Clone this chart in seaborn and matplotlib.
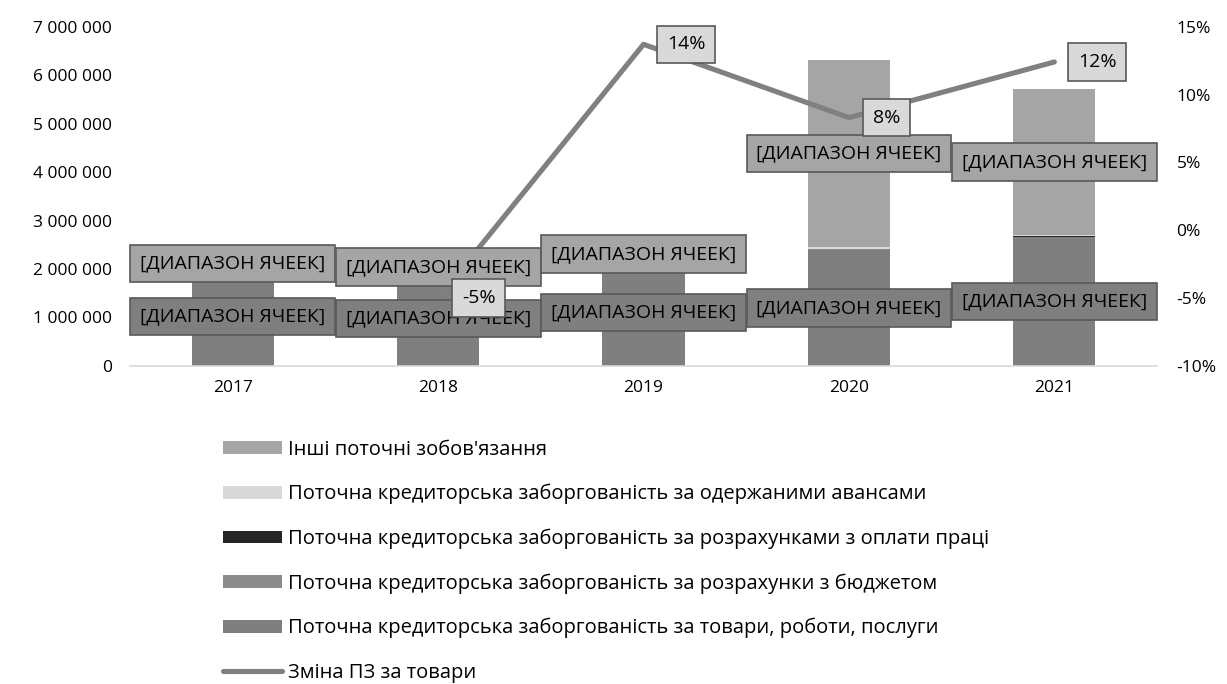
import numpy as np
import matplotlib
matplotlib.use("Agg")
import matplotlib.pyplot as plt
from matplotlib.patches import Patch
from matplotlib.lines import Line2D
from matplotlib.ticker import FuncFormatter
import seaborn as sns

years = ["2017", "2018", "2019", "2020", "2021"]
goods = [2050000, 1950000, 2200000, 2400000, 2660000]
budget = [10000, 10000, 10000, 10000, 10000]
wages = [5000, 5000, 5000, 5000, 5000]
advances = [5000, 5000, 5000, 30000, 30000]
other = [80000, 140000, 180000, 3870000, 3000000]
change_years = ["2018", "2019", "2020", "2021"]
change_pct = [-5.0, 13.7, 8.3, 12.4]

names = [
    "Поточна кредиторська заборгованість за товари, роботи, послуги",
    "Поточна кредиторська заборгованість за розрахунки з бюджетом",
    "Поточна кредиторська заборгованість за розрахунками з оплати праці",
    "Поточна кредиторська заборгованість за одержаними авансами",
    "Інші поточні зобов'язання",
]
line_name = "Зміна ПЗ за товари"
cell_label = "[ДИАПАЗОН ЯЧЕЕК]"

sns.set_theme(style="white")
plt.rcParams["font.family"] = ["Open Sans", "DejaVu Sans"]
plt.rcParams["text.color"] = "#000000"

colors = ["#7f7f7f", "#8c8c8c", "#262626", "#d9d9d9", "#a5a5a5"]
series = [goods, budget, wages, advances, other]

fig = plt.figure(figsize=(12.27, 6.84), dpi=100)
ax = fig.add_axes([0.106, 0.465, 0.837, 0.496])

bottom = np.zeros(len(years))
bottoms = []
for vals, c in zip(series, colors):
    bottoms.append(bottom.copy())
    sns.barplot(x=years, y=vals, color=c, saturation=1, width=0.4,
                bottom=bottom.copy(), ax=ax, linewidth=0)
    bottom = bottom + np.array(vals, dtype=float)

ax.set_ylim(0, 7000000)
ax.set_xlim(-0.5, len(years) - 0.5)
ax.set_yticks(np.arange(0, 7000001, 1000000))
ax.yaxis.set_major_formatter(FuncFormatter(lambda v, p: f"{int(v):,}".replace(",", " ")))
ax.tick_params(axis="both", length=0, labelsize=12.5, colors="#000000")
ax.tick_params(axis="y", pad=13)
ax.tick_params(axis="x", pad=10)
for s in ["top", "right", "left"]:
    ax.spines[s].set_visible(False)
ax.spines["bottom"].set_color("#d9d9d9")
ax.spines["bottom"].set_linewidth(1.2)
ax.set_xlabel("")
ax.set_ylabel("")
ax.grid(False)

ax2 = ax.twinx()
xpos = [years.index(y) for y in change_years]
sns.lineplot(x=xpos, y=change_pct, ax=ax2, color="#808080", linewidth=3.7, zorder=2)
ax2.set_ylim(-10, 15)
ax2.set_yticks(np.arange(-10, 16, 5))
ax2.yaxis.set_major_formatter(FuncFormatter(lambda v, p: f"{int(v)}%"))
ax2.tick_params(axis="y", length=0, labelsize=12.5, pad=14, colors="#000000")
for s in ["top", "right", "left", "bottom"]:
    ax2.spines[s].set_visible(False)
ax2.set_ylabel("")
ax2.grid(False)

# bar data labels (goods and other)
for i in range(len(years)):
    for k, fc in [(0, "#7f7f7f"), (4, "#a5a5a5")]:
        yc = bottoms[k][i] + series[k][i] / 2
        ax2.annotate(cell_label, xy=(i, yc), xycoords=ax.transData,
                     ha="center", va="center", fontsize=14, color="#000000",
                     zorder=3 + i * 0.01,
                     bbox=dict(boxstyle="square,pad=0.5", fc=fc, ec="#595959", lw=1.2))

for x, v in zip(xpos, change_pct):
    ax2.annotate(f"{v:.0f}%", xy=(x, v), xytext=(17, 0), textcoords="offset points",
                 ha="left", va="center", fontsize=14, color="#000000", zorder=5,
                 bbox=dict(boxstyle="square,pad=0.5", fc="#d9d9d9", ec="#595959", lw=1.2))

handles = [Patch(facecolor=colors[k], edgecolor="none") for k in [4, 3, 2, 1, 0]]
handles.append(Line2D([0], [0], color="#808080", lw=3.7))
labels = [names[k] for k in [4, 3, 2, 1, 0]] + [line_name]
fig.legend(handles, labels, loc="upper left", bbox_to_anchor=(0.182, 0.357),
           frameon=False, fontsize=14.5, handlelength=2.9, handleheight=0.6,
           handletextpad=0.3, labelspacing=1.2, borderpad=0, borderaxespad=0,
           labelcolor="#000000")

fig.savefig("out.png", dpi=100)
